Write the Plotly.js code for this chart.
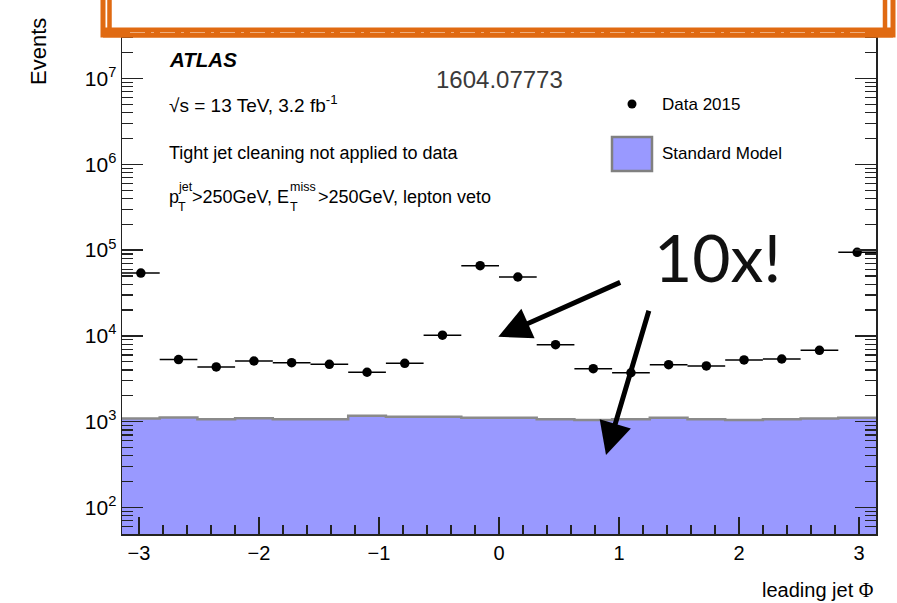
<!DOCTYPE html>
<html>
<head>
<meta charset="utf-8">
<script src="https://cdn.plot.ly/plotly-3.0.1.min.js"></script>
<style>
  html, body { margin: 0; padding: 0; background: #fff; }
  #chart { width: 897px; height: 603px; }
</style>
</head>
<body>
<div id="chart"></div>
<script>
// Leading-jet azimuth, 20 equal bins over [-pi, pi]
const nBins = 20;
const phiMin = -Math.PI;
const phiMax = Math.PI;

// Observed events per bin (Data 2015)
const dataEvents = [54000, 5300, 4350, 5100, 4870, 4670, 3770, 4790, 10200, 65800,
                    48600, 7900, 4150, 3720, 4620, 4460, 5240, 5380, 6790, 94200];

// Standard Model expectation per bin
const smEvents = [1090, 1120, 1070, 1100, 1070, 1070, 1170, 1140, 1140, 1110,
                  1110, 1070, 1050, 1070, 1110, 1070, 1050, 1070, 1090, 1110];

// Axis ticks
const yTickVals = [1e2, 1e3, 1e4, 1e5, 1e6, 1e7];
const yTickText = ["10<sup>2</sup>", "10<sup>3</sup>", "10<sup>4</sup>",
                   "10<sup>5</sup>", "10<sup>6</sup>", "10<sup>7</sup>"];
const xTickVals = [-3, -2, -1, 0, 1, 2, 3];
const xTickText = ["\u22123", "\u22122", "\u22121", "0", "1", "2", "3"];

// Bin geometry
const binW = (phiMax - phiMin) / nBins;
const edges = Array.from({length: nBins + 1}, (_, i) => phiMin + i * binW);
const centers = edges.slice(0, nBins).map(e => e + binW / 2);

// Frame of the plotting area in page pixels, used to place decorations
const FL = 122, FR = 876, FT = 20, FB = 534;
const px = x => (x - FL) / (FR - FL);
const py = y => (FB - y) / (FB - FT);

const FONT = "Liberation Sans, Arial, Helvetica, sans-serif";
const AXIS = "#222";

const traces = [
  {
    type: "bar",
    x: centers,
    y: smEvents,
    width: binW,
    marker: {color: "#9999ff", line: {width: 0}},
    hoverinfo: "skip",
    showlegend: false
  },
  {
    type: "scatter",
    mode: "lines",
    x: edges,
    y: smEvents.concat([smEvents[smEvents.length - 1]]),
    line: {shape: "hv", color: "#8a8a8a", width: 2.5},
    hoverinfo: "skip",
    showlegend: false
  },
  {
    type: "scatter",
    mode: "markers",
    x: centers,
    y: dataEvents,
    marker: {color: "#000", size: 9.5},
    error_x: {type: "constant", value: binW / 2, thickness: 1.5, width: 0, color: "#000"},
    showlegend: false
  }
];

function label(text, x, y, size, opts) {
  return Object.assign({
    xref: "paper", yref: "paper", x: px(x), y: py(y),
    xanchor: "left", yanchor: "middle",
    text: text, showarrow: false,
    font: {family: FONT, size: size, color: "#000"}
  }, opts || {});
}

function arrow(tailX, tailY, tipX, tipY) {
  return {
    xref: "paper", yref: "paper", x: px(tipX), y: py(tipY),
    axref: "pixel", ayref: "pixel", ax: tailX - tipX, ay: tailY - tipY,
    text: "", showarrow: true,
    arrowhead: 2, arrowsize: 1.3, arrowwidth: 5, arrowcolor: "#000", standoff: 0
  };
}

const annotations = [
  label("<b><i>ATLAS</i></b>", 167, 60, 20.5),
  label("1604.07773", 499, 79, 24, {xanchor: "center", font: {family: FONT, size: 24, color: "#3a3a3a"}}),
  label("\u221As = 13 TeV, 3.2 fb<sup>-1</sup>", 167, 104, 19),
  label("Tight jet cleaning not applied to data", 167, 153, 18),
  // p_T^jet and E_T^miss with stacked sub/superscripts
  label("p", 167, 197, 18),
  label("jet", 176, 187, 12.5),
  label("T", 176, 207, 12.5),
  label("&gt;250GeV, E", 189.5, 197, 18),
  label("miss", 288, 187, 12.5),
  label("T", 288, 207, 12.5),
  label("&gt;250GeV, lepton veto", 316, 197, 18),
  // legend entries
  label("Data 2015", 660, 105, 17),
  label("Standard Model", 660, 154, 17),
  // axis titles
  label("Events", 38, 52, 22, {xanchor: "center", textangle: -90}),
  label("leading jet <span style=\"font-family:Liberation Serif\">\u03A6</span>", 876, 590, 20, {xanchor: "right"}),
  // callout
  label("10x!", 717, 256, 66, {xanchor: "center", font: {family: "Lato, sans-serif", size: 66, color: "#111"}}),
  arrow(621.7, 281.7, 498.3, 336.7),
  arrow(649.3, 309.3, 606, 455)
];

const ORANGE = "#e06a12";
const frame = (x0, x1, y0, y1, extra) => Object.assign({
  type: "rect", xref: "paper", yref: "paper", layer: "above",
  x0: px(x0), x1: px(x1), y0: py(y0), y1: py(y1)
}, extra);

const shapes = [
  // legend symbols
  {type: "circle", xref: "paper", yref: "paper",
   x0: px(627.5), x1: px(636.5), y0: py(108.5), y1: py(99.5),
   fillcolor: "#000", line: {width: 0}},
  {type: "rect", xref: "paper", yref: "paper",
   x0: px(612), x1: px(652), y0: py(171), y1: py(137),
   fillcolor: "#9999ff", line: {color: "#808080", width: 2.5}},
  // hand-drawn orange title frame across the top
  frame(103, 893, 35, -20, {fillcolor: "#fff", line: {color: ORANGE, width: 5}}),
  frame(109.5, 885, 30.5, -20, {fillcolor: "rgba(0,0,0,0)", line: {color: ORANGE, width: 4.5}}),
  frame(103, 893, 37.5, 27.5, {fillcolor: ORANGE, line: {width: 0}}),
  // brush streaks inside the bottom stroke
  {type: "line", xref: "paper", yref: "paper", layer: "above",
   x0: px(130), x1: px(870), y0: py(32.5), y1: py(32.5),
   line: {color: "rgba(255,255,255,0.45)", width: 1, dash: "longdashdot"}}
];

const layout = {
  width: 897, height: 603,
  margin: {l: FL, r: 897 - FR, t: FT, b: 603 - FB, pad: 0},
  paper_bgcolor: "#fff", plot_bgcolor: "#fff",
  showlegend: false,
  barmode: "overlay", bargap: 0,
  font: {family: FONT, color: "#000"},
  xaxis: {
    range: [phiMin, phiMax],
    tickmode: "array", tickvals: xTickVals, ticktext: xTickText,
    ticks: "inside", ticklen: 17, tickwidth: 1.5, tickcolor: AXIS,
    minor: {tickmode: "linear", tick0: 0, dtick: 0.2, ticks: "inside", ticklen: 9,
            tickwidth: 1.2, tickcolor: AXIS, showgrid: false},
    showline: true, linecolor: AXIS, linewidth: 1.5, mirror: "ticks",
    showgrid: false, zeroline: false,
    tickfont: {family: FONT, size: 20, color: "#000"}
  },
  yaxis: {
    type: "log",
    range: [1.691, 7.682],
    tickmode: "array", tickvals: yTickVals, ticktext: yTickText,
    ticks: "inside", ticklen: 21, tickwidth: 1.5, tickcolor: AXIS,
    minor: {dtick: "D1", ticks: "inside", ticklen: 11, tickwidth: 1.2,
            tickcolor: AXIS, showgrid: false},
    showline: true, linecolor: AXIS, linewidth: 1.5, mirror: "ticks",
    showgrid: false, zeroline: false,
    tickfont: {family: FONT, size: 21, color: "#000"}
  },
  annotations: annotations,
  shapes: shapes
};

Plotly.newPlot("chart", traces, layout, {displayModeBar: false, staticPlot: true});
</script>
</body>
</html>
